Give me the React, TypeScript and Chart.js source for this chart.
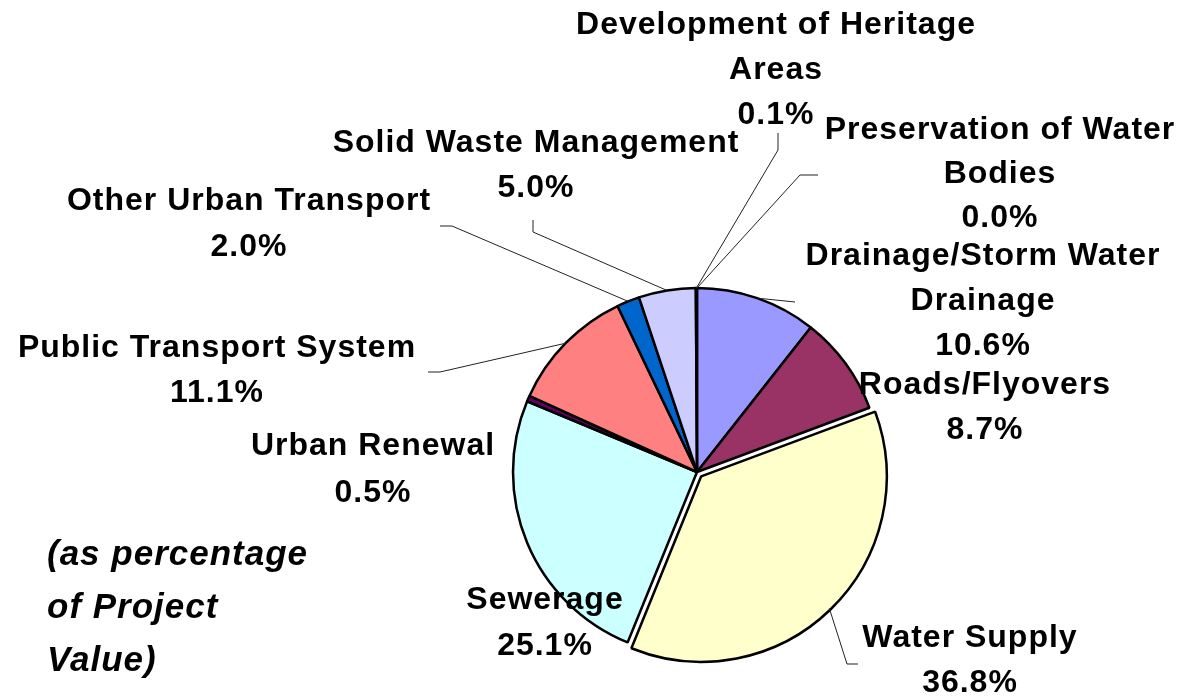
import React, { useEffect, useRef } from "react";
import { Chart, registerables } from "chart.js";

Chart.register(...registerables);

// ---- Data ----
const categories = [
  "Drainage/Storm Water Drainage",
  "Roads/Flyovers",
  "Water Supply",
  "Sewerage",
  "Urban Renewal",
  "Public Transport System",
  "Other Urban Transport",
  "Solid Waste Management",
  "Development of Heritage Areas",
  "Preservation of Water Bodies",
];
const shares = [10.6, 8.7, 36.8, 25.1, 0.5, 11.1, 2.0, 5.0, 0.1, 0.0];
const sliceColors = [
  "#9999FF",
  "#993366",
  "#FFFFCC",
  "#CCFFFF",
  "#660066",
  "#FF8080",
  "#0066CC",
  "#CCCCFF",
  "#000080",
  "#FF00FF",
];
const labelLines = [
  ["Drainage/Storm Water", "Drainage"],
  ["Roads/Flyovers"],
  ["Water Supply"],
  ["Sewerage"],
  ["Urban Renewal"],
  ["Public Transport System"],
  ["Other Urban Transport"],
  ["Solid Waste Management"],
  ["Development of Heritage", "Areas"],
  ["Preservation of Water", "Bodies"],
];
const noteLines = ["(as percentage", "of Project", "Value)"];

// ---- Layout (label placement, leader elbows) ----
const labelX = [983, 985, 970, 545, 373, 217, 249, 536, 776, 1000];
const labelY = [256, 385, 638, 600, 446, 348, 201, 143, 25, 130];
const labelLeading = [45, 45, 45, 46, 47, 45, 46, 45, 45, 44];
const leaderPoints: number[][][] = [
  [[795, 302]],
  [],
  [[847, 664], [858, 664]],
  [],
  [],
  [[440, 372], [428, 372]],
  [[452, 226], [440, 226]],
  [[533, 232], [533, 220]],
  [[778, 150], [778, 133]],
  [[800, 175], [818, 175]],
];
const explodeOffset = [0, 0, 24, 0, 0, 0, 0, 0, 0, 0];

const labelPlugin = {
  id: "outsideLabels",
  afterDraw(chart: any) {
    const ctx = chart.ctx as CanvasRenderingContext2D;
    const meta = chart.getDatasetMeta(0);
    ctx.save();
    // leader lines
    meta.data.forEach((arc: any, i: number) => {
      const pts = leaderPoints[i];
      if (!pts.length) return;
      const { x, y, startAngle, endAngle, outerRadius } = arc.getProps(
        ["x", "y", "startAngle", "endAngle", "outerRadius"],
        true
      );
      const mid = (startAngle + endAngle) / 2;
      const off = explodeOffset[i] / 4;
      const ax = x + Math.cos(mid) * (outerRadius + off);
      const ay = y + Math.sin(mid) * (outerRadius + off);
      ctx.beginPath();
      ctx.moveTo(ax, ay);
      pts.forEach((p) => ctx.lineTo(p[0], p[1]));
      ctx.strokeStyle = "#222";
      ctx.lineWidth = 1;
      ctx.stroke();
    });
    // labels
    ctx.fillStyle = "#000";
    ctx.textAlign = "center";
    ctx.textBaseline = "middle";
    ctx.font = 'bold 32px "Liberation Sans", Arial, sans-serif';
    (ctx as any).letterSpacing = "1px";
    categories.forEach((_, i) => {
      const lines = [...labelLines[i], shares[i].toFixed(1) + "%"];
      lines.forEach((t, k) => {
        ctx.fillText(t, labelX[i], labelY[i] + k * labelLeading[i]);
      });
    });
    // note
    ctx.textAlign = "left";
    ctx.font = 'italic bold 35px "Liberation Sans", Arial, sans-serif';
    noteLines.forEach((t, k) => {
      ctx.fillText(t, 47, 555 + k * 53);
    });
    ctx.restore();
  },
};

export default function App() {
  const canvasRef = useRef<HTMLCanvasElement | null>(null);
  useEffect(() => {
    document.body.style.margin = "0";
    const canvas = canvasRef.current!;
    const chart = new Chart(canvas, {
      type: "pie",
      data: {
        labels: categories,
        datasets: [
          {
            data: shares,
            backgroundColor: sliceColors,
            borderColor: "#000",
            borderWidth: 2.5,
            offset: explodeOffset,
          },
        ],
      },
      options: {
        responsive: false,
        animation: false,
        devicePixelRatio: 1,
        radius: 184,
        layout: { padding: { left: 204, right: 0, top: 244, bottom: 0 } },
        plugins: {
          legend: { display: false },
          tooltip: { enabled: false },
        },
      },
      plugins: [labelPlugin],
    } as any);
    return () => chart.destroy();
  }, []);
  return (
    <div style={{ position: "fixed", left: 0, top: 0, width: 1190, height: 700, background: "#fff" }}>
      <canvas ref={canvasRef} width={1190} height={700} />
    </div>
  );
}
